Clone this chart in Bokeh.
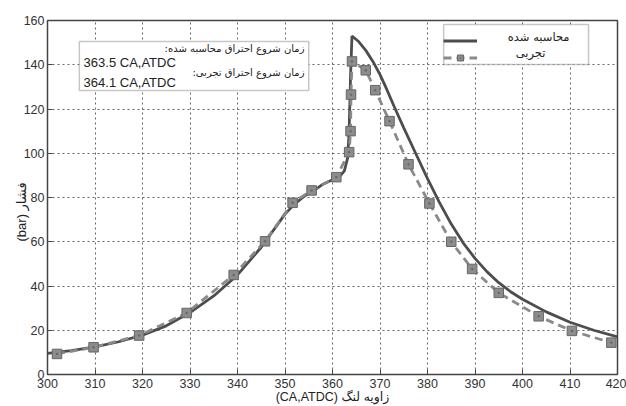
from bokeh.plotting import figure
from bokeh.models import Legend, LegendItem, Label, BoxAnnotation, FixedTicker, Range1d
from bokeh.embed import file_html
from bokeh.resources import INLINE

# --- data -------------------------------------------------------------
calc_x = [300, 305, 310, 315, 320, 325, 330, 335, 340, 345, 350, 352, 354, 356,
          358, 360, 361.5, 362.5, 363.2, 363.5, 363.8, 364.1, 365.5, 367, 368.5,
          370, 371.5, 373, 375, 377.5, 380, 382.5, 385, 387.5, 390, 392.5, 395,
          397.5, 400, 405, 410, 415, 420]
calc_y = [9.5, 10.8, 12.5, 14.8, 17.8, 22, 28, 35.5, 45, 57.5, 72.5, 77, 80.5, 83,
          86, 88, 89.5, 92, 98, 110, 135, 153, 150.5, 146.5, 141.5,
          135.5, 128.5, 121, 111.5, 100, 88.5, 77.8, 68, 59.5, 52.5, 46.5, 41.5,
          37.4, 34, 28.3, 23.6, 20, 17]

exp_x = [302, 309.7, 319.3, 329.3, 339.2, 345.8, 351.6, 355.6, 360.8, 363.5,
         363.8, 363.9, 364.1, 367, 369, 372, 376, 380.4, 385, 389.4, 395,
         403.4, 410.4, 418.7]
exp_y = [9.3, 12.3, 17.6, 27.8, 45, 60.2, 77.6, 83.2, 89.2, 100.5,
         110, 126.5, 141.5, 137.5, 128.5, 114.5, 95, 77.3, 60, 47.7, 36.9,
         26.3, 19.7, 14.4]

x_ticks = [300, 310, 320, 330, 340, 350, 360, 370, 380, 390, 400, 410, 420]
y_ticks = [0, 20, 40, 60, 80, 100, 120, 140, 160]

calc_name = "محاسبه شده"
exp_name = "تجربی"
x_title = "(CA,ATDC) زاویه لنگ"
y_title = "(bar) فشار"
note_calc_title = "زمان شروع احتراق محاسبه شده:\u200f"
note_calc_value = "363.5 CA,ATDC"
note_exp_title = "زمان شروع احتراق تجربی:\u200f"
note_exp_value = "364.1 CA,ATDC"

LATIN = "'Liberation Sans', 'DejaVu Sans', sans-serif"
PERSIAN = "'DejaVu Sans', sans-serif"
MIXED = "'Liberation Sans', 'DejaVu Sans', sans-serif"

# --- figure -----------------------------------------------------------
p = figure(width=626, height=406, x_range=Range1d(300, 420), y_range=Range1d(0, 160),
           output_backend="svg", toolbar_location=None,
           min_border_left=47, min_border_right=9, min_border_top=20, min_border_bottom=32)
p.background_fill_color = "white"
p.border_fill_color = "white"
p.outline_line_color = "#444444"
p.outline_line_width = 1.5

for ax in (p.xaxis[0], p.yaxis[0]):
    ax.major_tick_in = 5
    ax.major_tick_out = 0
    ax.minor_tick_line_color = None
    ax.axis_line_color = "#444444"
    ax.major_tick_line_color = "#444444"
    ax.major_label_text_font = LATIN
    ax.major_label_text_font_size = "12.5px"
    ax.major_label_text_color = "#333333"
    ax.axis_label_text_font = MIXED
    ax.axis_label_text_font_style = "normal"
    ax.axis_label_text_color = "#222222"

p.xaxis.ticker = FixedTicker(ticks=x_ticks)
p.yaxis.ticker = FixedTicker(ticks=y_ticks)
p.xaxis.axis_label = x_title
p.xaxis.axis_label_text_font_size = "12.5px"
p.xaxis.major_label_standoff = 4
p.xaxis.axis_label_standoff = -1
# the original's y title sits a little below the frame centre: pad its top end
p.yaxis.axis_label = y_title + "\u00a0" * 8
p.yaxis.axis_label_text_font_size = "13px"
p.yaxis.major_label_standoff = 3
p.yaxis.axis_label_standoff = -8

p.grid.grid_line_color = "#666666"
p.grid.grid_line_dash = "2 3"
p.grid.grid_line_width = 1

# --- curves -----------------------------------------------------------
calc_line = p.line(calc_x, calc_y, line_color="#4d4d4d", line_width=2.8)
exp_line = p.line(exp_x, exp_y, line_color="#8a8a8a", line_width=2.8, line_dash="8 5")
exp_pts = p.scatter(exp_x, exp_y, marker="square_dot", size=9.5,
                    fill_color="#8c8c8c", line_color="#666666", line_width=1)

# --- legend: frame box, transparent Legend for the symbols, centred names ---
p.add_layout(BoxAnnotation(left=383.4, right=413.9, bottom=140.1, top=158.2,
                           fill_color="white", fill_alpha=1,
                           line_color="#444444", line_width=1.5))
legend = Legend(items=[LegendItem(label=" ", renderers=[calc_line]),
                       LegendItem(label=" ", renderers=[exp_line, exp_pts])],
                location=(396, 309), glyph_width=34, glyph_height=15,
                label_height=15, label_width=73,
                label_standoff=28, padding=5, spacing=2, margin=0,
                label_text_font_size="11px",
                border_line_color=None,
                background_fill_alpha=0)
p.add_layout(legend)
for txt, x, y in [(calc_name, 403.4, 152.7), (exp_name, 401.7, 145.1)]:
    p.add_layout(Label(x=x, y=y, text=txt, text_align="center", text_baseline="middle",
                       text_font=PERSIAN, text_font_size="11.5px", text_color="#222222"))

# --- annotation box ---------------------------------------------------
p.add_layout(BoxAnnotation(left=306.7, right=355.0, bottom=128.4, top=150.5,
                           fill_color="white", fill_alpha=1,
                           line_color="#444444", line_width=1.5))
for txt, x, y, align, font, size in [
        (note_calc_title, 354.1, 147.3, "right", PERSIAN, "10px"),
        (note_calc_value, 307.6, 140.9, "left", LATIN, "13px"),
        (note_exp_title, 354.1, 136.6, "right", PERSIAN, "10px"),
        (note_exp_value, 307.6, 131.8, "left", LATIN, "13px")]:
    p.add_layout(Label(x=x, y=y, text=txt, text_align=align, text_baseline="middle",
                       text_font=font, text_font_size=size, text_color="#222222"))

open("out.html", "w").write(file_html(p, INLINE))
